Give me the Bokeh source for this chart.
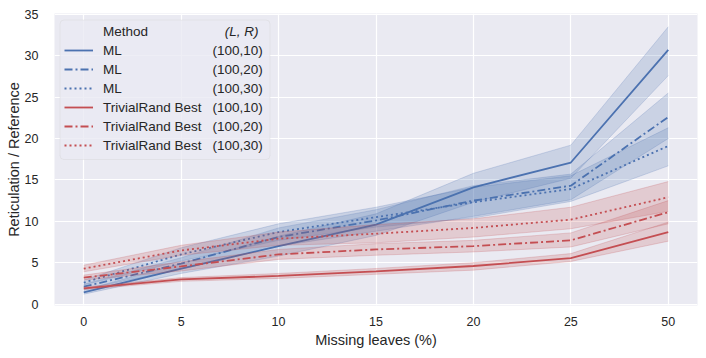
from bokeh.plotting import figure
from bokeh.models import Range1d, FixedTicker, Legend, LegendItem, Label, BoxAnnotation
from bokeh.embed import file_html
from bokeh.resources import INLINE

# ---- data -------------------------------------------------------------
x_labels = ["0", "5", "10", "15", "20", "25", "50"]
y_ticks = [0, 5, 10, 15, 20, 25, 30, 35]

ml_10 = [1.43, 4.28, 7.0, 9.6, 14.1, 17.1, 30.7]
ml_10_lo = [1.2, 3.7, 5.8, 8.3, 12.3, 15.2, 27.6]
ml_10_hi = [1.7, 4.9, 8.2, 10.9, 15.8, 19.2, 33.5]

ml_20 = [2.1, 4.9, 8.1, 10.1, 12.5, 14.3, 22.6]
ml_20_lo = [1.8, 4.2, 7.0, 8.8, 10.6, 12.6, 20.0]
ml_20_hi = [2.4, 5.6, 9.2, 11.4, 14.3, 15.7, 25.5]

ml_30 = [2.6, 6.0, 8.7, 10.5, 12.3, 13.9, 19.1]
ml_30_lo = [2.3, 5.2, 7.7, 9.3, 10.4, 12.4, 16.7]
ml_30_hi = [2.9, 6.8, 9.7, 11.7, 14.1, 15.5, 21.3]

tr_10 = [1.9, 2.99, 3.4, 3.95, 4.6, 5.55, 8.7]
tr_10_lo = [1.75, 2.75, 3.1, 3.6, 4.1, 5.15, 7.6]
tr_10_hi = [2.05, 3.2, 3.7, 4.3, 5.0, 6.1, 9.9]

tr_20 = [3.2, 4.55, 6.0, 6.6, 7.0, 7.7, 11.1]
tr_20_lo = [2.9, 4.0, 5.4, 5.9, 6.3, 6.9, 9.7]
tr_20_hi = [3.5, 5.1, 6.6, 7.3, 7.7, 8.6, 12.5]

tr_30 = [4.28, 6.48, 7.9, 8.5, 9.2, 10.2, 12.9]
tr_30_lo = [3.9, 5.9, 7.1, 7.4, 8.1, 9.1, 11.2]
tr_30_hi = [4.7, 7.1, 8.7, 9.6, 10.3, 11.7, 14.8]

methods = ["ML", "ML", "ML", "TrivialRand Best", "TrivialRand Best", "TrivialRand Best"]
lr_labels = ["(100,10)", "(100,20)", "(100,30)", "(100,10)", "(100,20)", "(100,30)"]

# ---- styling ----------------------------------------------------------
BLUE = "#4C72B0"
RED = "#C44E52"
TXT = "#262626"
FONT = "Liberation Sans"
DASHES = ["solid", "8 3 2 3", "2 3"]

FRAME_H = 292  # 358 - 13 (top) - 53 (bottom)

x_pos = list(range(len(x_labels)))

p = figure(width=706, height=358, output_backend="svg", toolbar_location=None,
           x_range=Range1d(-0.3, len(x_labels) - 0.7), y_range=Range1d(-0.17, 35.1),
           min_border_left=54, min_border_right=9, min_border_top=13, min_border_bottom=53,
           background_fill_color="#EAEAF2", border_fill_color="white")
p.outline_line_color = None
p.grid.grid_line_color = "white"
p.grid.grid_line_width = 1.2

p.xaxis.ticker = FixedTicker(ticks=x_pos)
p.xaxis.major_label_overrides = {i: lab for i, lab in enumerate(x_labels)}
p.yaxis.ticker = FixedTicker(ticks=y_ticks)
for ax in (p.xaxis, p.yaxis):
    ax.axis_line_color = None
    ax.major_tick_line_color = None
    ax.minor_tick_line_color = None
    ax.major_tick_out = 0
    ax.major_tick_in = 0
    ax.minor_tick_out = 0
    ax.minor_tick_in = 0
    ax.major_label_text_font = FONT
    ax.major_label_text_font_size = "12.5px"
    ax.major_label_text_color = TXT
    ax.axis_label_text_font = FONT
    ax.axis_label_text_font_size = "14.5px"
    ax.axis_label_text_font_style = "normal"
    ax.axis_label_text_color = TXT
p.xaxis.major_label_standoff = 11
p.yaxis.major_label_standoff = 16
p.xaxis.axis_label = "Missing leaves (%)"
p.yaxis.axis_label = "Reticulation / Reference"
p.xaxis.axis_label_standoff = 3
p.yaxis.axis_label_standoff = 0

series = [
    (BLUE, DASHES[0], ml_10, ml_10_lo, ml_10_hi),
    (BLUE, DASHES[1], ml_20, ml_20_lo, ml_20_hi),
    (BLUE, DASHES[2], ml_30, ml_30_lo, ml_30_hi),
    (RED, DASHES[0], tr_10, tr_10_lo, tr_10_hi),
    (RED, DASHES[1], tr_20, tr_20_lo, tr_20_hi),
    (RED, DASHES[2], tr_30, tr_30_lo, tr_30_hi),
]

line_renderers = []
for color, dash, y, lo, hi in series:
    p.varea(x=x_pos, y1=lo, y2=hi, fill_color=color, fill_alpha=0.2)
    p.line(x_pos, lo, line_color=color, line_alpha=0.22, line_width=1)
    p.line(x_pos, hi, line_color=color, line_alpha=0.22, line_width=1)
    r = p.line(x_pos, y, line_color=color, line_width=1.8, line_dash=dash)
    line_renderers.append(r)

# ---- legend (screen units, measured from the frame's bottom-left) -----
def from_top(px):
    return FRAME_H - px

box = BoxAnnotation(left=5.5, right=215.5, top=from_top(6.5), bottom=from_top(146),
                    left_units="screen", right_units="screen",
                    top_units="screen", bottom_units="screen",
                    fill_color="#EAEAF2", fill_alpha=0.8,
                    line_color="#CCCCCC", line_width=1, border_radius=4)
p.add_layout(box)

dummy = p.line([], [], line_alpha=0)
items = [LegendItem(label="Method", renderers=[dummy])]
for m, r in zip(methods, line_renderers):
    items.append(LegendItem(label=m, renderers=[r]))

legend = Legend(items=items, location="top_left", margin=6, padding=4, spacing=3,
                label_height=16, glyph_height=16, glyph_width=29, label_standoff=10,
                label_text_font=FONT, label_text_font_size="13.5px",
                label_text_color=TXT, background_fill_alpha=0, border_line_alpha=0)
p.add_layout(legend)

first_row = 18  # centre of the title row, px below the frame top
p.add_layout(Label(x=204, y=from_top(first_row), x_units="screen", y_units="screen",
                   text="(L, R)", text_align="right", text_baseline="middle",
                   text_font=FONT, text_font_size="13.5px", text_font_style="italic",
                   text_color=TXT))
for i, lab in enumerate(lr_labels):
    p.add_layout(Label(x=208.3, y=from_top(first_row + 19 * (i + 1)),
                       x_units="screen", y_units="screen",
                       text=lab, text_align="right", text_baseline="middle",
                       text_font=FONT, text_font_size="13.5px", text_color=TXT))

open("out.html", "w").write(file_html(p, INLINE))
